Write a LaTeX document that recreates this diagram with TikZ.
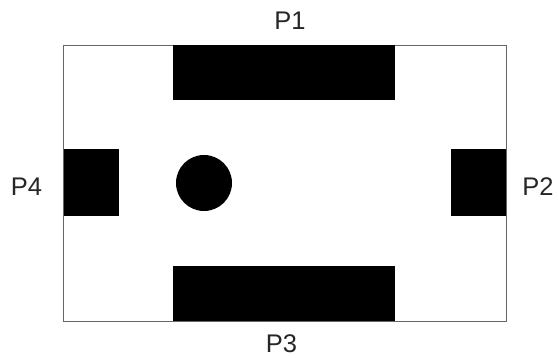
\documentclass[tikz,border=0pt]{standalone}
\usepackage{fontspec}
\setmainfont{Liberation Sans}
\tikzset{pad/.style={fill=black,draw=none,inner sep=0pt,rectangle},lab/.style={font=\fontsize{25.5pt}{28pt}\selectfont,inner sep=0pt,text=black!85}}
\begin{document}
\begin{tikzpicture}[x=1pt,y=-1pt,yscale=1]
\useasboundingbox (0,0) rectangle (558,358);
\fill[white] (0,0) rectangle (558,358);
\node[draw=black!60,line width=1pt,minimum width=443pt,minimum height=276pt,inner sep=0pt] (board) at (285,183.4) {};
\node[pad,minimum width=222pt,minimum height=55pt] (p1) at (284,72.5) {};
\node[pad,minimum width=222pt,minimum height=55pt] (p3) at (284,293.5) {};
\node[pad,minimum width=55pt,minimum height=67pt] (p4) at (91.5,183) {};
\node[pad,minimum width=55pt,minimum height=67pt] (p2) at (478.5,183) {};
\node[pad,circle,minimum size=56pt] (hole) at (204,183) {};
\node[lab] (l1) at (290,21) {P1};
\node[lab] (l2) at (538,186.5) {P2};
\node[lab] (l3) at (281.5,343.5) {P3};
\node[lab] (l4) at (26.5,186.5) {P4};
\end{tikzpicture}
\end{document}
